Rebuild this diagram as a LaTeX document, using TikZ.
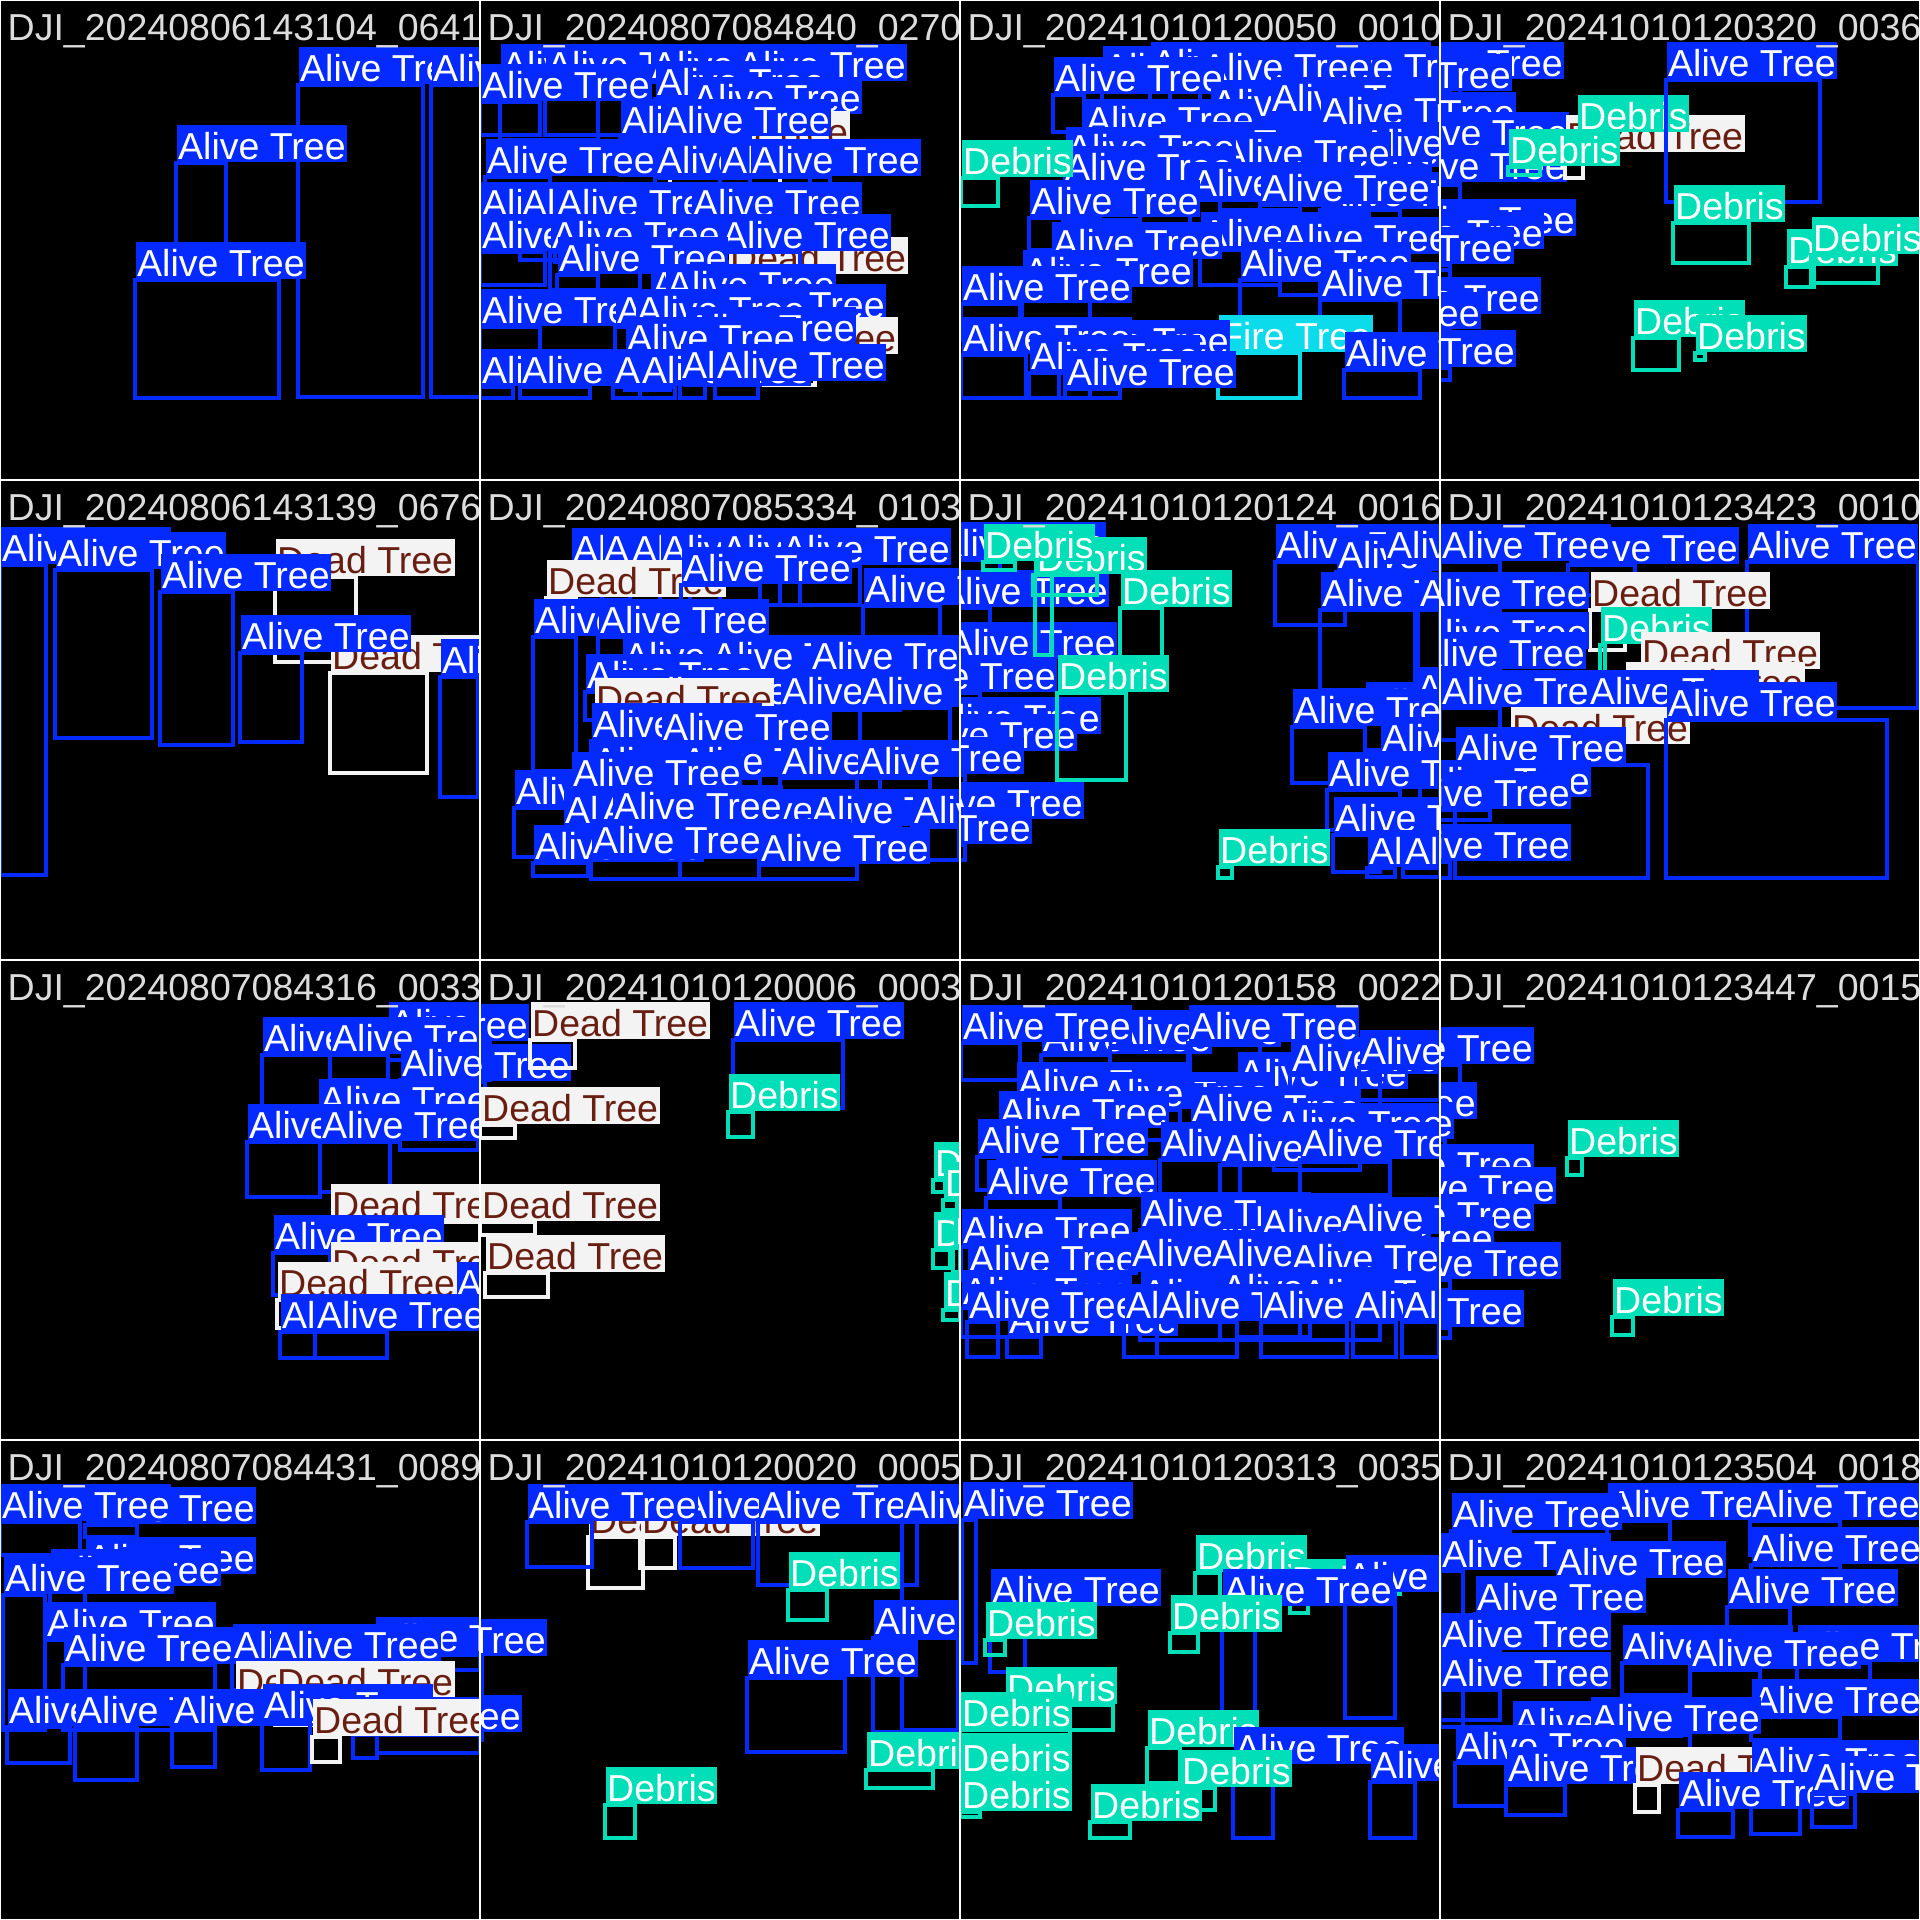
\documentclass[tikz,border=0pt]{standalone}
\usepackage{fontspec}
\setmainfont{Liberation Sans}

\definecolor{alive}{HTML}{042AFF}
\definecolor{fire}{HTML}{0BDBEB}
\definecolor{dead}{HTML}{F3F3F3}
\definecolor{deadtext}{HTML}{681F11}
\definecolor{debris}{HTML}{00DFB7}
\definecolor{titlegray}{HTML}{DCDCDC}

\newcommand{\labelfont}{\fontsize{10.67pt}{12pt}\selectfont}
\newcommand{\txtA}{Alive Tree}
\newcommand{\txtD}{Dead Tree}
\newcommand{\txtB}{Debris}
\newcommand{\txtF}{Fire Tree}

% one detection = box + class label on its top left corner
\newcommand{\detections}[1]{%
  \foreach \xa/\ya/\xb/\yb/\cls in {#1} {
    \draw[box\cls] (\xa,\ya) rectangle (\xb,\yb);
    \node[lab\cls] at (\xa,\ya) {\csname txt\cls\endcsname};
  }}

\begin{document}
\begin{tikzpicture}[x=0.01cm, y=-0.01cm,
  box/.style={line width=0.04cm},
  boxA/.style={box, draw=alive}, boxD/.style={box, draw=dead},
  boxB/.style={box, draw=debris}, boxF/.style={box, draw=fire},
  lab/.style={anchor=south west, inner xsep=0.015cm, inner ysep=0pt,
    text height=0.34cm, text depth=0.03cm, font=\labelfont},
  labA/.style={lab, fill=alive, text=white},
  labD/.style={lab, fill=dead, text=deadtext},
  labB/.style={lab, fill=debris, text=white},
  labF/.style={lab, fill=fire, text=white},
  title/.style={anchor=base west, inner sep=0pt, text=titlegray, font=\labelfont},
  grid/.style={draw=white, line width=0.02cm}]

  \useasboundingbox (0,0) rectangle (1920,1920);
  \fill[black] (0,0) rectangle (1920,1920);

  % row 0
  \begin{scope}
    \clip (0,0) rectangle (480,480);
    \detections{298/85/423/397/A, 431/85/490/397/A, 176/163/226/262/A, 135/280/279/398/A}
  \end{scope}
  \begin{scope}[shift={(480,0)}]
    \clip (0,0) rectangle (480,480);
    \detections{20/82/118/140/A, 65/82/150/135/A, 170/82/258/135/A, 256/82/340/128/A,
      175/99/250/135/A, 0/102/60/135/A, 211/115/300/150/A, 190/149/300/190/D,
      140/137/230/175/A, 180/137/270/178/A, 5/177/70/212/A, 175/177/240/212/A,
      240/177/330/215/A, 270/177/350/215/A, 0/220/65/245/A, 40/220/110/260/A,
      75/220/200/262/A, 211/220/300/262/A, 248/275/340/300/D, 0/252/65/285/A,
      70/252/160/290/A, 240/252/320/290/A, 77/275/118/300/A, 170/302/240/340/A,
      185/302/250/345/A, 235/322/300/360/A, 238/355/335/385/D, 0/327/60/360/A,
      135/327/190/365/A, 155/327/200/365/A, 205/345/280/385/A, 145/355/190/390/A,
      0/387/33/398/A, 40/387/110/398/A, 133/387/160/398/A, 160/387/195/398/A,
      200/382/225/398/A, 235/382/278/398/A}
  \end{scope}
  \begin{scope}[shift={(960,0)}]
    \clip (0,0) rectangle (480,480);
    \detections{142/84/210/130/A, 300/80/380/120/A, 190/80/260/120/A, 350/84/430/130/A,
      240/84/320/125/A, 93/95/124/132/A, 250/120/330/160/A, 310/115/400/160/A,
      360/128/450/170/A, 124/137/200/170/A, 200/160/280/200/A, 330/168/420/205/A,
      400/160/470/200/A, 260/170/340/210/A, 105/165/180/200/A, 103/184/180/220/A,
      1/178/38/206/B, 230/200/300/240/A, 360/210/440/250/A, 300/205/380/245/A,
      69/218/140/250/A, 240/250/320/285/A, 320/255/400/295/A, 91/260/160/300/A,
      62/288/130/320/A, 280/280/360/320/A, 360/300/440/335/A, 1/304/60/340/A,
      258/353/340/398/F, 99/358/130/398/A, 1/355/66/398/A, 69/373/105/398/A,
      105/389/160/398/A, 384/370/460/398/A}
  \end{scope}
  \begin{scope}[shift={(1440,0)}]
    \clip (0,0) rectangle (480,480);
    \detections{-47/80/20/110/A, -99/92/10/120/A, -95/130/15/160/A, -42/150/20/185/A,
      -44/183/20/220/A, -35/237/15/260/A, -67/250/10/270/A, -97/265/10/290/A,
      -70/315/10/330/A, -130/330/10/340/A, -95/368/10/380/A,
      125/153/143/178/D, 137/133/150/150/B, 68/167/100/175/B,
      226/80/380/202/A, 233/223/309/263/B, 346/267/374/287/B, 371/255/438/283/B,
      193/338/239/370/B, 255/353/265/360/B}
  \end{scope}

  % row 1
  \begin{scope}[shift={(0,480)}]
    \clip (0,0) rectangle (480,480);
    \detections{0/85/46/395/A, 55/90/152/258/A, 275/97/356/182/D, 160/112/233/265/A,
      330/193/427/293/D, 240/173/302/262/A, 440/197/478/317/A}
  \end{scope}
  \begin{scope}[shift={(480,480)}]
    \clip (0,0) rectangle (480,480);
    \detections{91/86/150/120/A, 122/86/180/130/A, 150/86/210/125/A, 180/86/240/130/A,
      240/86/320/125/A, 300/86/380/125/A, 66/118/96/140/D, 201/105/280/140/A,
      383/126/460/165/A, 53/157/96/291/A, 118/157/200/190/A, 142/193/220/230/A,
      230/193/300/230/A, 330/193/420/230/A, 105/212/138/240/A, 132/228/200/260/A,
      160/228/240/262/A, 300/228/380/262/A, 380/228/470/262/A, 114/236/145/260/D,
      111/261/181/290/A, 181/264/250/300/A, 111/298/200/330/A, 200/298/280/330/A,
      300/298/400/330/A, 377/298/450/330/A, 34/328/96/377/A, 91/310/160/345/A,
      83/347/140/377/A, 120/347/200/377/A, 250/347/330/377/A, 330/347/420/377/A,
      432/347/479/380/A, 132/343/200/377/A, 53/383/108/396/A, 200/377/279/399/A,
      111/377/200/399/A, 279/385/377/399/A}
  \end{scope}
  \begin{scope}[shift={(960,480)}]
    \clip (0,0) rectangle (480,480);
    \detections{-25/80/40/120/A, -22/128/30/160/A, -14/180/20/200/A, -74/213/20/230/A,
      -30/255/20/280/A, -54/272/10/290/A, -107/295/5/310/A, -47/340/10/360/A,
      -99/365/5/380/A, 73/95/137/115/B, 75/95/92/175/B, 23/82/55/90/B,
      160/128/202/178/B, 97/213/166/300/B, 315/82/385/145/A, 376/92/470/130/A,
      425/82/480/120/A, 360/130/455/210/A, 458/130/480/210/A, 405/240/470/270/A,
      455/225/480/260/A, 332/247/405/303/A, 420/275/480/300/A, 460/305/480/330/A,
      367/310/440/350/A, 373/355/420/392/A, 407/388/435/397/A, 443/388/480/397/A,
      258/387/272/398/B}
  \end{scope}
  \begin{scope}[shift={(1440,480)}]
    \clip (0,0) rectangle (480,480);
    \detections{128/85/195/115/A, 0/82/60/100/A, 307/82/478/228/A, -22/130/60/160/A,
      150/130/185/170/D, 160/165/165/195/B, -22/170/60/190/A, -25/190/60/200/A,
      200/190/290/230/D, 185/220/280/240/D, 0/228/60/260/A, 148/228/200/260/A,
      70/265/130/285/D, 226/240/447/398/A, 15/285/208/398/A, -20/318/40/320/A,
      -40/330/50/340/A, -40/382/10/398/A}
  \end{scope}

  % row 2
  \begin{scope}[shift={(0,960)}]
    \clip (0,0) rectangle (480,480);
    \detections{262/95/330/150/A, 388/80/480/100/A, 330/95/388/120/A, 400/120/478/190/A,
      318/157/400/182/A, 247/182/320/237/A, 320/182/390/232/A, 330/262/480/300/D,
      273/293/330/335/A, 330/320/480/340/D, 455/340/480/360/A, 277/340/317/368/D,
      280/372/315/398/A, 315/372/387/398/A}
  \end{scope}
  \begin{scope}[shift={(480,960)}]
    \clip (0,0) rectangle (480,480);
    \detections{-122/82/10/120/A, -80/122/5/130/A, 50/80/95/108/D, 0/165/35/178/D,
      253/80/363/148/A, 248/152/273/177/B, 0/262/55/275/D, 5/313/68/337/D,
      453/220/465/232/B, 463/240/477/250/B, 453/290/470/308/B, 473/288/480/312/B,
      463/350/480/360/B}
  \end{scope}
  \begin{scope}[shift={(960,960)}]
    \clip (0,0) rectangle (480,480);
    \detections{81/95/150/130/A, 150/88/230/120/A, 277/130/350/160/A, 330/115/420/150/A,
      56/140/120/170/A, 140/150/220/180/A, 230/165/300/200/A, 38/169/100/200/A,
      314/181/400/210/A, 17/197/80/230/A, 200/200/280/235/A, 260/205/340/240/A,
      340/200/430/235/A, 26/238/100/270/A, 240/274/330/300/A, 1/287/60/320/A,
      180/270/260/305/A, 300/280/380/315/A, 380/275/460/310/A, 7/316/80/345/A,
      170/310/250/345/A, 250/310/330/345/A, 330/315/410/345/A, 1/348/80/377/A,
      277/347/350/377/A, 180/350/260/380/A, 260/345/340/380/A, 340/350/420/380/A,
      1/83/60/120/A, 228/83/300/120/A, 399/108/480/140/A, 47/377/81/397/A,
      7/362/38/397/A, 164/362/197/397/A, 197/362/277/397/A, 301/362/387/397/A,
      393/362/436/397/A, 442/362/479/397/A}
  \end{scope}
  \begin{scope}[shift={(1440,960)}]
    \clip (0,0) rectangle (480,480);
    \detections{-77/105/20/130/A, -134/160/5/170/A, -157/180/5/190/A, -77/222/10/235/A,
      -55/245/10/260/A, -77/272/10/285/A, -117/295/5/305/A, -50/320/10/330/A,
      -87/368/10/378/A, 127/198/142/215/B, 172/357/193/375/B}
  \end{scope}

  % row 3
  \begin{scope}[shift={(0,1440)}]
    \clip (0,0) rectangle (480,480);
    \detections{85/85/137/97/A, 0/82/80/115/A, 85/135/170/150/A, 50/147/85/165/A,
      3/155/45/290/A, 45/200/85/280/A, 232/222/260/250/A, 375/215/480/230/A,
      270/222/440/240/A, 63/225/215/290/A, 235/259/262/280/D, 275/259/470/285/D,
      7/287/70/323/A, 75/287/137/340/A, 172/287/215/327/A, 262/282/310/330/A,
      353/295/377/318/A, 377/295/480/313/A, 312/297/340/322/D}
  \end{scope}
  \begin{scope}[shift={(480,1440)}]
    \clip (0,0) rectangle (480,480);
    \detections{108/97/163/148/D, 160/97/195/128/D, 200/82/273/128/A, 47/82/112/127/A,
      278/82/437/145/A, 422/82/480/290/A, 308/150/347/180/B, 393/198/478/292/A,
      267/238/365/312/A, 386/330/453/348/B, 125/365/155/398/B,
      -104/217/2/260/A, -129/293/2/300/A}
  \end{scope}
  \begin{scope}[shift={(960,1440)}]
    \clip (0,0) rectangle (480,480);
    \detections{2/80/16/223/A, 235/133/260/157/B, 330/157/348/173/B, 385/153/435/278/A,
      262/167/295/295/A, 30/167/65/232/A, 25/200/45/215/B, 210/193/238/212/B,
      45/265/153/290/B, 0/290/110/295/B, 0/335/20/340/B, 0/372/20/377/B,
      187/308/220/343/B, 273/325/313/398/A, 410/342/455/398/A, 220/348/255/370/B,
      130/382/170/398/B}
  \end{scope}
  \begin{scope}[shift={(1440,1440)}]
    \clip (0,0) rectangle (480,480);
    \detections{167/81/230/110/A, 310/81/400/115/A, 11/91/70/120/A, 0/131/23/287/A,
      115/139/180/170/A, 311/125/400/160/A, 35/174/100/200/A, 287/167/350/200/A,
      0/211/60/240/A, 182/223/250/255/A, 357/223/430/255/A, 0/250/60/280/A,
      250/230/320/262/A, 311/277/400/300/A, 72/299/150/330/A, 150/295/250/330/A,
      15/323/66/366/A, 66/345/125/375/A, 195/345/219/372/D, 311/338/360/394/A,
      238/370/293/397/A, 372/354/415/387/A}
  \end{scope}

  % image names
  \node[title] at (7,40) {DJI\_20240806143104\_0641};
  \node[title] at (487,40) {DJI\_20240807084840\_0270};
  \node[title] at (967,40) {DJI\_20241010120050\_0010};
  \node[title] at (1447,40) {DJI\_20241010120320\_0036};
  \node[title] at (7,520) {DJI\_20240806143139\_0676};
  \node[title] at (487,520) {DJI\_20240807085334\_0103};
  \node[title] at (967,520) {DJI\_20241010120124\_0016};
  \node[title] at (1447,520) {DJI\_20241010123423\_0010};
  \node[title] at (7,1000) {DJI\_20240807084316\_0033};
  \node[title] at (487,1000) {DJI\_20241010120006\_0003};
  \node[title] at (967,1000) {DJI\_20241010120158\_0022};
  \node[title] at (1447,1000) {DJI\_20241010123447\_0015};
  \node[title] at (7,1480) {DJI\_20240807084431\_0089};
  \node[title] at (487,1480) {DJI\_20241010120020\_0005};
  \node[title] at (967,1480) {DJI\_20241010120313\_0035};
  \node[title] at (1447,1480) {DJI\_20241010123504\_0018};

  % panel grid
  \draw[grid] (0,0) rectangle (1920,1920);
  \foreach \k in {480,960,1440} {
    \draw[grid] (\k,0) -- (\k,1920);
    \draw[grid] (0,\k) -- (1920,\k);
  }
\end{tikzpicture}
\end{document}
